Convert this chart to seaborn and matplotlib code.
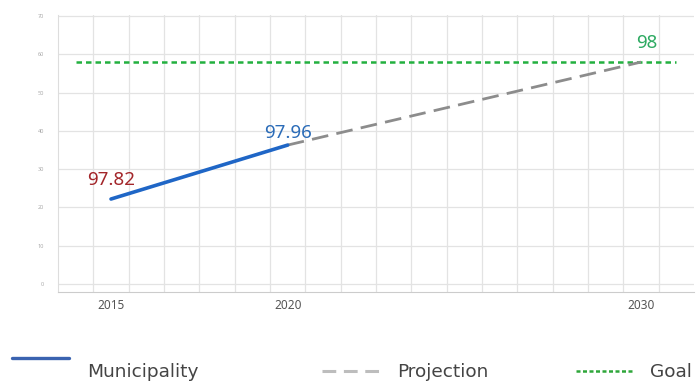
import matplotlib
matplotlib.use("Agg")
import matplotlib.pyplot as plt
from matplotlib.lines import Line2D
import seaborn as sns
import numpy as np
import pandas as pd

# values (y in the chart's own grid units)
years_mun = [2015, 2020]
mun_y = [22.2, 36.3]
years_proj = [2020, 2030]
proj_y = [36.3, 58.0]
years_goal = [2014, 2031]
goal_y = [58.0, 58.0]

value_labels = ["97.82", "97.96", "98"]
label_years = [2015, 2020, 2030]
label_y = [22.2, 36.3, 58.0]
label_colors = ["#a3262a", "#2b6cb8", "#2eaa62"]
label_offsets = [(0, 7), (0, 2), (4, 7)]

x_ticks = [2015, 2020, 2030]
y_ticks = [0, 10, 20, 30, 40, 50, 60, 70]

legend_names = ["Municipality", "Projection", "Goal"]

blue = "#1f66c6"
gray = "#8c8c8c"
green = "#22b03f"

sns.set_style("white")
plt.rcParams['font.family'] = ['Noto Sans', 'DejaVu Sans']

fig = plt.figure(figsize=(6.99, 3.83), dpi=100)
ax = fig.add_axes([58/699, 1 - 292/383, (694-58)/699, (292-15)/383])

df_mun = pd.DataFrame({"year": years_mun, "value": mun_y})
df_proj = pd.DataFrame({"year": years_proj, "value": proj_y})
df_goal = pd.DataFrame({"year": years_goal, "value": goal_y})

sns.lineplot(data=df_goal, x="year", y="value", ax=ax, color=green, lw=1.8, zorder=3)
ax.lines[-1].set_dashes([2.2, 1.6])
sns.lineplot(data=df_proj, x="year", y="value", ax=ax, color=gray, lw=2.0, zorder=3)
ax.lines[-1].set_dashes([6, 3])
sns.lineplot(data=df_mun, x="year", y="value", ax=ax, color=blue, lw=2.6, zorder=4)

for txt, xv, yv, c, off in zip(value_labels, label_years, label_y, label_colors, label_offsets):
    ax.annotate(txt, (xv, yv), xytext=off, textcoords="offset points",
                ha="center", va="bottom", fontsize=13.5, color=c)

ax.set_xlim(2013.5, 2031.5)
ax.set_ylim(-2.1, 70.3)
ax.set_xticks(x_ticks)
ax.set_xticklabels([str(v) for v in x_ticks], fontsize=8.5, color="#555555")
ax.set_xticks(np.arange(2014.5, 2031.5, 1), minor=True)
ax.set_yticks(y_ticks)
ax.set_yticklabels([str(v) for v in y_ticks], fontsize=4, color="#aaaaaa")
ax.tick_params(axis="both", which="both", length=0)
ax.tick_params(axis="x", pad=5)
ax.tick_params(axis="y", pad=10)
ax.grid(False)
ax.grid(True, axis="x", which="minor", color="#e3e3e3", lw=0.9)
ax.grid(True, axis="y", which="major", color="#e3e3e3", lw=0.9)
ax.set_xlabel("")
ax.set_ylabel("")
for side in ["top", "right"]:
    ax.spines[side].set_visible(False)
ax.spines["left"].set_color("#dddddd")
ax.spines["bottom"].set_color("#cccccc")

# legend along the bottom
handles = [
    Line2D([12/699, 69/699], [1 - 358/383] * 2, color="#3a63b0", lw=2.4),
    Line2D([322/699, 379/699], [1 - 371/383] * 2, color="#bdbdbd", lw=2.2, dashes=[4.5, 2.5]),
    Line2D([576/699, 633/699], [1 - 371/383] * 2, color="#2ea63a", lw=1.8, dashes=[1.6, 1.0]),
]
for h in handles:
    fig.add_artist(h)
text_x = [87, 397, 650]
for name, tx in zip(legend_names, text_x):
    fig.text(tx/699, 1 - 377/383, name, fontsize=13.3, color="#444444",
             ha="left", va="baseline", family=["DejaVu Sans"])

fig.savefig("out.png", dpi=100)
